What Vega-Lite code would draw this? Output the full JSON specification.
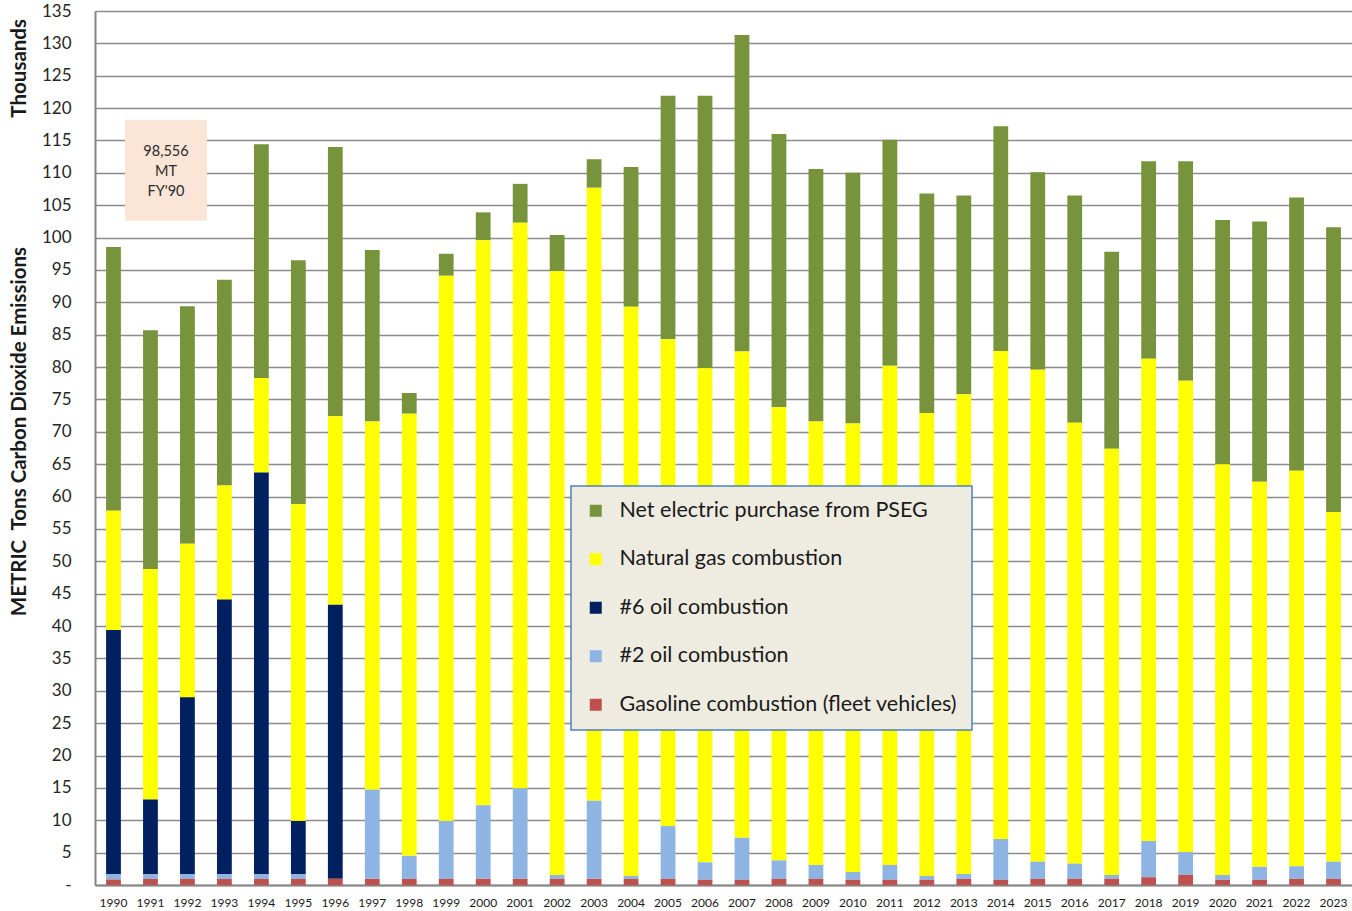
{
  "$schema": "https://vega.github.io/schema/vega-lite/v6.json",
  "width": 1257,
  "height": 874,
  "autosize": {"type": "none"},
  "padding": {"left": 95, "top": 11, "right": 0, "bottom": 26},
  "background": "white",
  "config": {
    "font": "Lato",
    "view": {"stroke": null},
    "axis": {"labelOverlap": false},
    "axisY": {
      "labelFontSize": 17,
      "labelColor": "#262626",
      "labelPadding": 24,
      "ticks": false,
      "domainColor": "#868686",
      "domainWidth": 2,
      "gridColor": "#8c8c8c",
      "gridWidth": 1.5,
      "titleFontSize": 20.5,
      "titleFontWeight": "bold",
      "titleColor": "#1a1a1a"
    },
    "axisX": {
      "labelAngle": 0,
      "labelFontSize": 12,
      "labelColor": "#1a1a1a",
      "labelPadding": 12,
      "ticks": false,
      "domainColor": "#868686",
      "domainWidth": 2,
      "grid": false
    }
  },
  "title": {
    "text": "Thousands",
    "orient": "left",
    "anchor": "end",
    "frame": "group",
    "offset": -21,
    "dx": -8,
    "fontSize": 20.5,
    "fontWeight": "bold",
    "color": "#1a1a1a"
  },
  "datasets": {
    "emissions": [
      {"year": 1990, "electric": 40.756, "natural_gas": 18.4, "oil6": 37.7, "oil2": 0.85, "gasoline": 0.85},
      {"year": 1991, "electric": 36.9, "natural_gas": 35.6, "oil6": 11.5, "oil2": 0.75, "gasoline": 0.95},
      {"year": 1992, "electric": 36.7, "natural_gas": 23.7, "oil6": 27.3, "oil2": 0.75, "gasoline": 0.95},
      {"year": 1993, "electric": 31.8, "natural_gas": 17.6, "oil6": 42.4, "oil2": 0.75, "gasoline": 0.95},
      {"year": 1994, "electric": 36.1, "natural_gas": 14.6, "oil6": 62.0, "oil2": 0.75, "gasoline": 0.95},
      {"year": 1995, "electric": 37.7, "natural_gas": 48.9, "oil6": 8.2, "oil2": 0.75, "gasoline": 0.95},
      {"year": 1996, "electric": 41.6, "natural_gas": 29.1, "oil6": 42.35, "oil2": 0, "gasoline": 0.95},
      {"year": 1997, "electric": 26.5, "natural_gas": 56.9, "oil6": 0, "oil2": 13.75, "gasoline": 0.95},
      {"year": 1998, "electric": 3.2, "natural_gas": 68.3, "oil6": 0, "oil2": 3.55, "gasoline": 0.95},
      {"year": 1999, "electric": 3.4, "natural_gas": 84.2, "oil6": 0, "oil2": 8.95, "gasoline": 0.95},
      {"year": 2000, "electric": 4.3, "natural_gas": 87.3, "oil6": 0, "oil2": 11.35, "gasoline": 0.95},
      {"year": 2001, "electric": 6.0, "natural_gas": 87.4, "oil6": 0, "oil2": 13.95, "gasoline": 0.95},
      {"year": 2002, "electric": 5.6, "natural_gas": 93.25, "oil6": 0, "oil2": 0.6, "gasoline": 0.95},
      {"year": 2003, "electric": 4.4, "natural_gas": 94.7, "oil6": 0, "oil2": 12.05, "gasoline": 0.95},
      {"year": 2004, "electric": 21.6, "natural_gas": 87.9, "oil6": 0, "oil2": 0.45, "gasoline": 0.95},
      {"year": 2005, "electric": 37.6, "natural_gas": 75.2, "oil6": 0, "oil2": 8.15, "gasoline": 0.95},
      {"year": 2006, "electric": 42.1, "natural_gas": 76.3, "oil6": 0, "oil2": 2.7, "gasoline": 0.8},
      {"year": 2007, "electric": 48.9, "natural_gas": 75.1, "oil6": 0, "oil2": 6.5, "gasoline": 0.8},
      {"year": 2008, "electric": 42.2, "natural_gas": 70.0, "oil6": 0, "oil2": 2.85, "gasoline": 0.95},
      {"year": 2009, "electric": 39.0, "natural_gas": 68.5, "oil6": 0, "oil2": 2.15, "gasoline": 0.95},
      {"year": 2010, "electric": 38.7, "natural_gas": 69.3, "oil6": 0, "oil2": 1.2, "gasoline": 0.8},
      {"year": 2011, "electric": 34.9, "natural_gas": 77.1, "oil6": 0, "oil2": 2.3, "gasoline": 0.8},
      {"year": 2012, "electric": 33.9, "natural_gas": 71.5, "oil6": 0, "oil2": 0.6, "gasoline": 0.8},
      {"year": 2013, "electric": 30.7, "natural_gas": 74.1, "oil6": 0, "oil2": 0.75, "gasoline": 0.95},
      {"year": 2014, "electric": 34.7, "natural_gas": 75.4, "oil6": 0, "oil2": 6.3, "gasoline": 0.8},
      {"year": 2015, "electric": 30.5, "natural_gas": 76.0, "oil6": 0, "oil2": 2.65, "gasoline": 0.95},
      {"year": 2016, "electric": 35.1, "natural_gas": 68.1, "oil6": 0, "oil2": 2.35, "gasoline": 0.95},
      {"year": 2017, "electric": 30.4, "natural_gas": 65.85, "oil6": 0, "oil2": 0.6, "gasoline": 0.95},
      {"year": 2018, "electric": 30.5, "natural_gas": 74.5, "oil6": 0, "oil2": 5.6, "gasoline": 1.2},
      {"year": 2019, "electric": 33.9, "natural_gas": 72.8, "oil6": 0, "oil2": 3.55, "gasoline": 1.55},
      {"year": 2020, "electric": 37.7, "natural_gas": 63.45, "oil6": 0, "oil2": 0.75, "gasoline": 0.8},
      {"year": 2021, "electric": 40.2, "natural_gas": 59.5, "oil6": 0, "oil2": 2.0, "gasoline": 0.8},
      {"year": 2022, "electric": 42.2, "natural_gas": 61.1, "oil6": 0, "oil2": 1.95, "gasoline": 0.95},
      {"year": 2023, "electric": 44.0, "natural_gas": 54.0, "oil6": 0, "oil2": 2.65, "gasoline": 0.95}
    ],
    "sources": [
      {"key": "electric", "source": "Net electric purchase from PSEG", "rank": 4},
      {"key": "natural_gas", "source": "Natural gas combustion", "rank": 3},
      {"key": "oil6", "source": "#6 oil combustion", "rank": 2},
      {"key": "oil2", "source": "#2 oil combustion", "rank": 1},
      {"key": "gasoline", "source": "Gasoline combustion (fleet vehicles)", "rank": 0}
    ],
    "baseline": [
      {"label": "98,556 MT FY'90"}
    ]
  },
  "layer": [
    {
      "data": {"name": "emissions"},
      "transform": [
        {"fold": ["electric", "natural_gas", "oil6", "oil2", "gasoline"], "as": ["key", "kt"]},
        {"lookup": "key", "from": {"data": {"name": "sources"}, "key": "key", "fields": ["source", "rank"]}}
      ],
      "mark": {"type": "bar"},
      "encoding": {
        "x": {
          "field": "year",
          "type": "ordinal",
          "scale": {"type": "band", "paddingInner": 0.6, "paddingOuter": 0.3},
          "axis": {"title": null}
        },
        "y": {
          "field": "kt",
          "type": "quantitative",
          "stack": "zero",
          "scale": {"domain": [0, 135], "nice": false, "zero": true},
          "axis": {
            "values": [0, 5, 10, 15, 20, 25, 30, 35, 40, 45, 50, 55, 60, 65, 70, 75, 80, 85, 90, 95, 100, 105, 110, 115, 120, 125, 130, 135],
            "labelExpr": "datum.value == 0 ? '-' : datum.label",
            "title": "METRIC\u00a0 Tons Carbon Dioxide Emissions",
            "titleX": -66,
            "titleY": 420,
            "titleAngle": -90,
            "titleAlign": "center",
            "titleBaseline": "bottom"
          }
        },
        "color": {
          "field": "source",
          "type": "nominal",
          "scale": {
            "domain": ["Net electric purchase from PSEG", "Natural gas combustion", "#6 oil combustion", "#2 oil combustion", "Gasoline combustion (fleet vehicles)"],
            "range": ["#77933C", "#FFFF00", "#002060", "#8EB4E3", "#C0504D"]
          },
          "legend": {
            "orient": "none",
            "legendX": 476,
            "legendY": 475,
            "title": null,
            "fillColor": "#EEECE1",
            "strokeColor": "#4F81BD",
            "padding": 14,
            "symbolType": "square",
            "symbolSize": 144,
            "symbolStrokeWidth": 0,
            "symbolOpacity": 1,
            "labelFontSize": 21.5,
            "labelColor": "#1a1a1a",
            "labelOffset": 13,
            "labelLimit": 0,
            "rowPadding": 25.5,
            "encode": {"legend": {"update": {"strokeWidth": {"value": 1.5}}}}
          }
        },
        "order": {"field": "rank", "type": "quantitative", "sort": "ascending"}
      }
    },
    {
      "data": {"name": "baseline"},
      "mark": {"type": "rect", "color": "#FBE5D6"},
      "encoding": {
        "x": {"datum": 1990, "type": "ordinal", "bandPosition": 1.28},
        "x2": {"datum": 1992, "bandPosition": 1.82},
        "y": {
          "datum": 118.2,
          "type": "quantitative",
          "axis": {
            "values": [0, 5, 10, 15, 20, 25, 30, 35, 40, 45, 50, 55, 60, 65, 70, 75, 80, 85, 90, 95, 100, 105, 110, 115, 120, 125, 130, 135]
          }
        },
        "y2": {"datum": 102.6}
      }
    },
    {
      "data": {"name": "baseline"},
      "mark": {"type": "text", "lineBreak": " ", "fontSize": 14.5, "lineHeight": 20, "color": "#2b2b2b", "align": "center", "baseline": "middle"},
      "encoding": {
        "x": {"datum": 1991, "type": "ordinal", "bandPosition": 1.55},
        "y": {
          "datum": 113.2,
          "type": "quantitative",
          "axis": {
            "values": [0, 5, 10, 15, 20, 25, 30, 35, 40, 45, 50, 55, 60, 65, 70, 75, 80, 85, 90, 95, 100, 105, 110, 115, 120, 125, 130, 135]
          }
        },
        "text": {"field": "label"}
      }
    }
  ]
}
